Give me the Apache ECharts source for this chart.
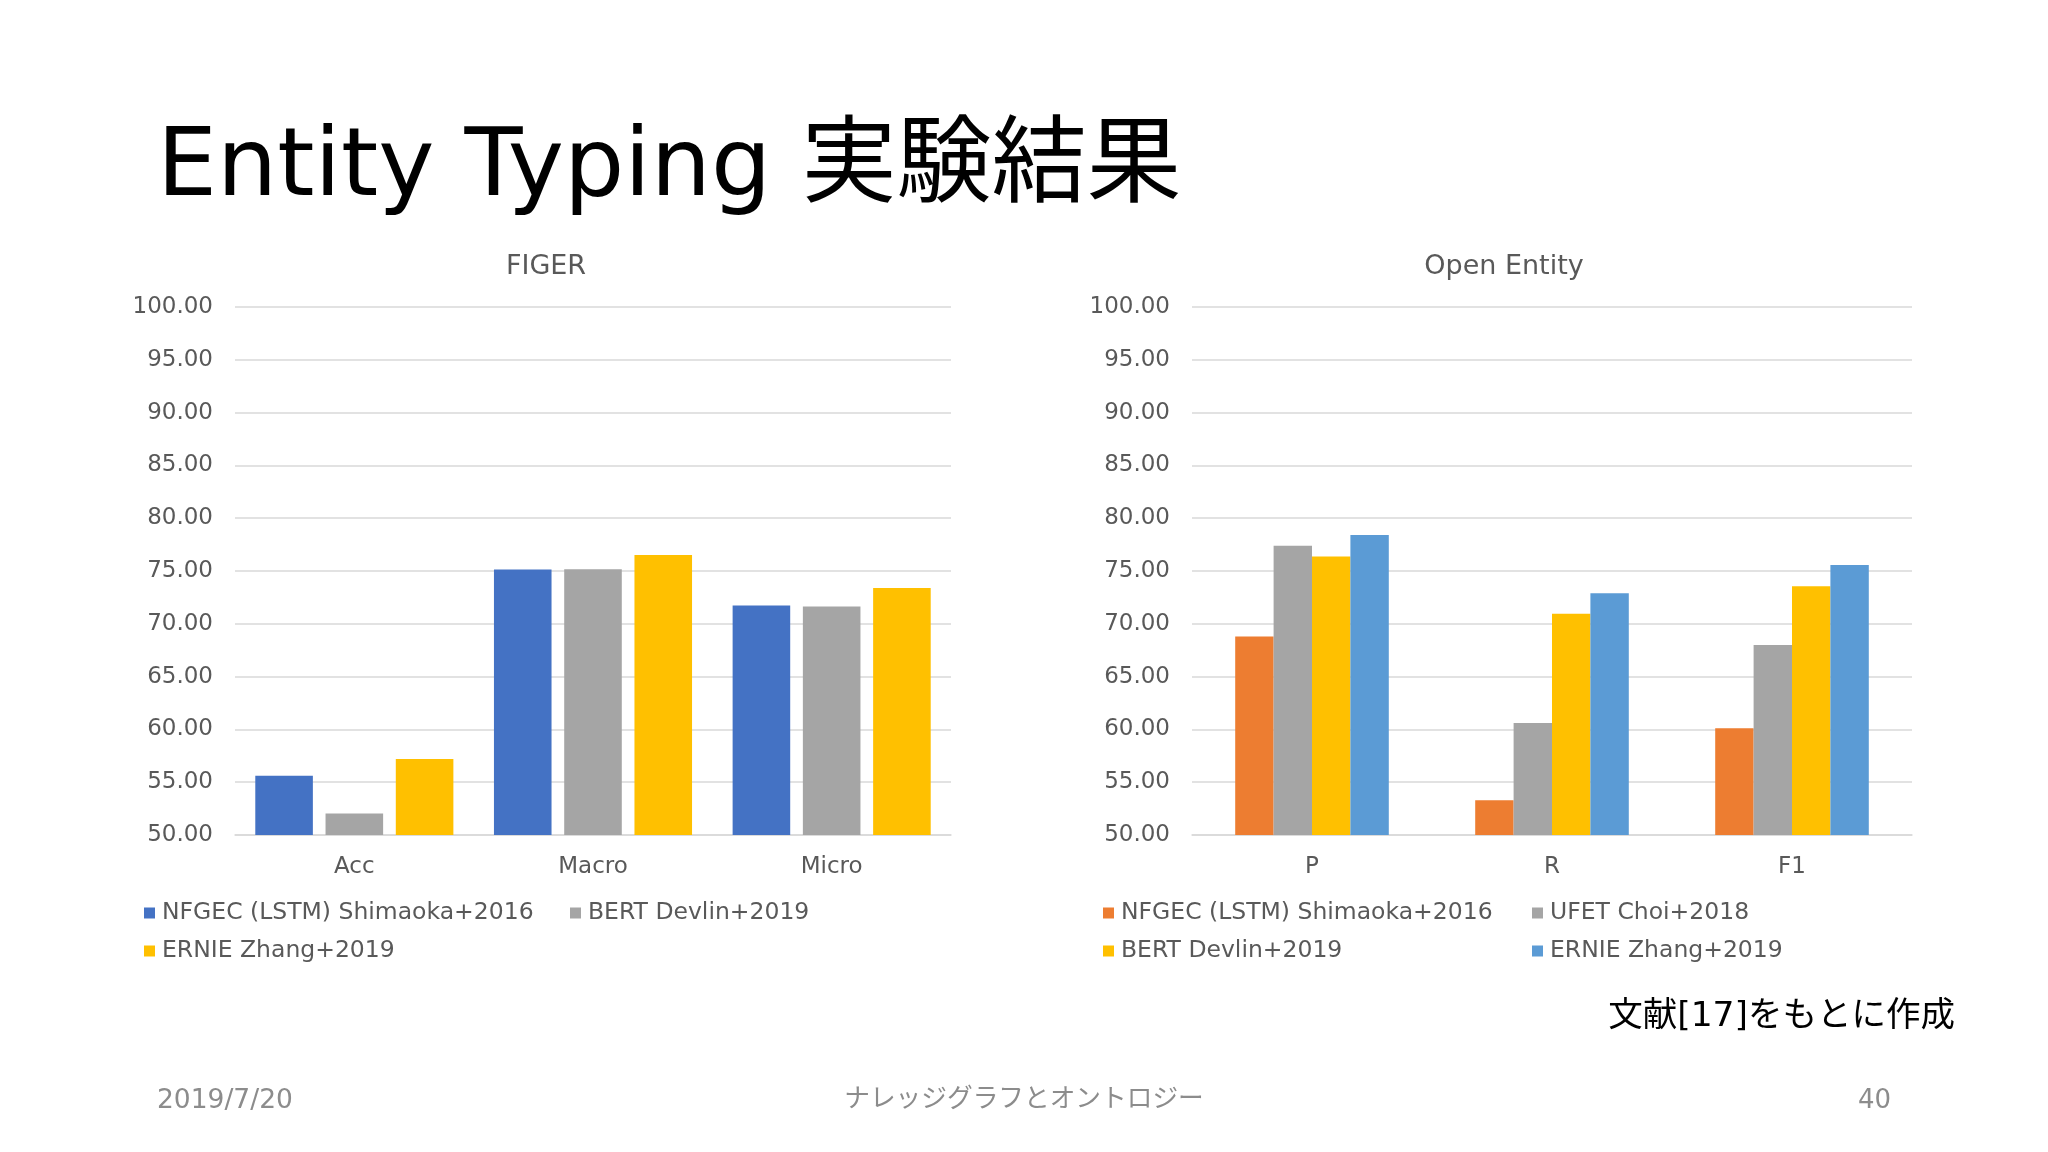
<!DOCTYPE html>
<html>
<head>
<meta charset="utf-8">
<script src="https://cdn.jsdelivr.net/npm/echarts@6/dist/echarts.min.js"></script>
<style>
  html, body { margin: 0; padding: 0; background: #fff; }
  #main { width: 2048px; height: 1152px; }
</style>
</head>
<body>
<div id="main"></div>
<script>
// FIGER
const figerCats = ['Acc', 'Macro', 'Micro'];
const figerNames = ['NFGEC (LSTM) Shimaoka+2016', 'BERT Devlin+2019', 'ERNIE Zhang+2019'];
const figerNfgec = [55.60, 75.15, 71.73];
const figerBert = [52.04, 75.16, 71.63];
const figerErnie = [57.19, 76.51, 73.39];
const figerColors = ['#4472C4', '#A5A5A5', '#FFC000'];

// Open Entity
const openCats = ['P', 'R', 'F1'];
const openNames = ['NFGEC (LSTM) Shimaoka+2016', 'UFET Choi+2018', 'BERT Devlin+2019', 'ERNIE Zhang+2019'];
const openNfgec = [68.80, 53.30, 60.10];
const openUfet = [77.40, 60.60, 68.00];
const openBert = [76.37, 70.96, 73.56];
const openErnie = [78.42, 72.90, 75.56];
const openColors = ['#ED7D31', '#A5A5A5', '#FFC000', '#5B9BD5'];

const yTicks = { min: 50, max: 100, interval: 5 };

const FONT = "'DejaVu Sans', 'Noto Sans CJK JP', sans-serif";
const labelColor = '#595959';
const gridColor = '#D9D9D9';

const chart = echarts.init(document.getElementById('main'));

function yAxis(idx) {
  return {
    type: 'value', gridIndex: idx,
    min: yTicks.min, max: yTicks.max, interval: yTicks.interval,
    axisLabel: {
      formatter: v => v.toFixed(2), color: labelColor, fontSize: 23,
      fontFamily: FONT, margin: 22
    },
    axisLine: { show: false }, axisTick: { show: false },
    splitLine: { lineStyle: { color: gridColor, width: 1.5 } }
  };
}

function xAxis(idx, cats) {
  return {
    type: 'category', gridIndex: idx, data: cats,
    axisLine: { lineStyle: { color: gridColor, width: 1.5 } },
    axisTick: { show: false },
    axisLabel: { color: labelColor, fontSize: 23, fontFamily: FONT, margin: 21 }
  };
}

function legendItem(name, color, x, y) {
  return {
    left: x, top: y - 12, padding: 0, icon: 'rect',
    itemWidth: 11, itemHeight: 11, itemGap: 0,
    textStyle: { color: labelColor, fontSize: 23.5, fontFamily: FONT, lineHeight: 24, padding: [0, 0, 0, 2] },
    data: [{ name: name, itemStyle: { color: color } }],
    selectedMode: false
  };
}

const figerData = [figerNfgec, figerBert, figerErnie];
const openData = [openNfgec, openUfet, openBert, openErnie];

const series = [];
figerData.forEach((d, i) => {
  series.push({
    name: figerNames[i], type: 'bar', xAxisIndex: 0, yAxisIndex: 0,
    data: d, barGap: '22%', barCategoryGap: '17%',
    itemStyle: { color: figerColors[i] }
  });
});
openData.forEach((d, i) => {
  series.push({
    name: openNames[i], type: 'bar', xAxisIndex: 1, yAxisIndex: 1,
    data: d, barGap: '0%', barCategoryGap: '36%',
    itemStyle: { color: openColors[i] }
  });
});

const option = {
  animation: false,
  backgroundColor: '#ffffff',
  textStyle: { fontFamily: FONT },
  title: [
    { text: 'FIGER', left: 546, top: 253, textAlign: 'center', padding: 0,
      textStyle: { color: labelColor, fontSize: 27, fontWeight: 'normal', fontFamily: FONT } },
    { text: 'Open Entity', left: 1504, top: 253, textAlign: 'center', padding: 0,
      textStyle: { color: labelColor, fontSize: 27, fontWeight: 'normal', fontFamily: FONT } }
  ],
  grid: [
    { left: 235, top: 307, width: 716, height: 528 },
    { left: 1192, top: 307, width: 720, height: 528 }
  ],
  xAxis: [xAxis(0, figerCats), xAxis(1, openCats)],
  yAxis: [yAxis(0), yAxis(1)],
  legend: [
    legendItem(figerNames[0], figerColors[0], 144, 913),
    legendItem(figerNames[1], figerColors[1], 570, 913),
    legendItem(figerNames[2], figerColors[2], 144, 951),
    legendItem(openNames[0], openColors[0], 1103, 913),
    legendItem(openNames[1], openColors[1], 1532, 913),
    legendItem(openNames[2], openColors[2], 1103, 951),
    legendItem(openNames[3], openColors[3], 1532, 951)
  ],
  graphic: [
    { type: 'text', left: 157, top: 123,
      style: { text: 'Entity Typing 実験結果', fill: '#000', font: '95px ' + FONT } },
    { type: 'text', right: 93, top: 1000,
      style: { text: '文献[17]をもとに作成', fill: '#000', font: '34.5px ' + FONT } },
    { type: 'text', left: 157, top: 1088,
      style: { text: '2019/7/20', fill: '#8C8C8C', font: '26.5px ' + FONT } },
    { type: 'text', left: 'center', top: 1087,
      style: { text: 'ナレッジグラフとオントロジー', fill: '#8C8C8C', font: '25.7px ' + FONT } },
    { type: 'text', right: 157, top: 1088,
      style: { text: '40', fill: '#8C8C8C', font: '26px ' + FONT } }
  ],
  series: series
};

chart.setOption(option);
</script>
</body>
</html>
